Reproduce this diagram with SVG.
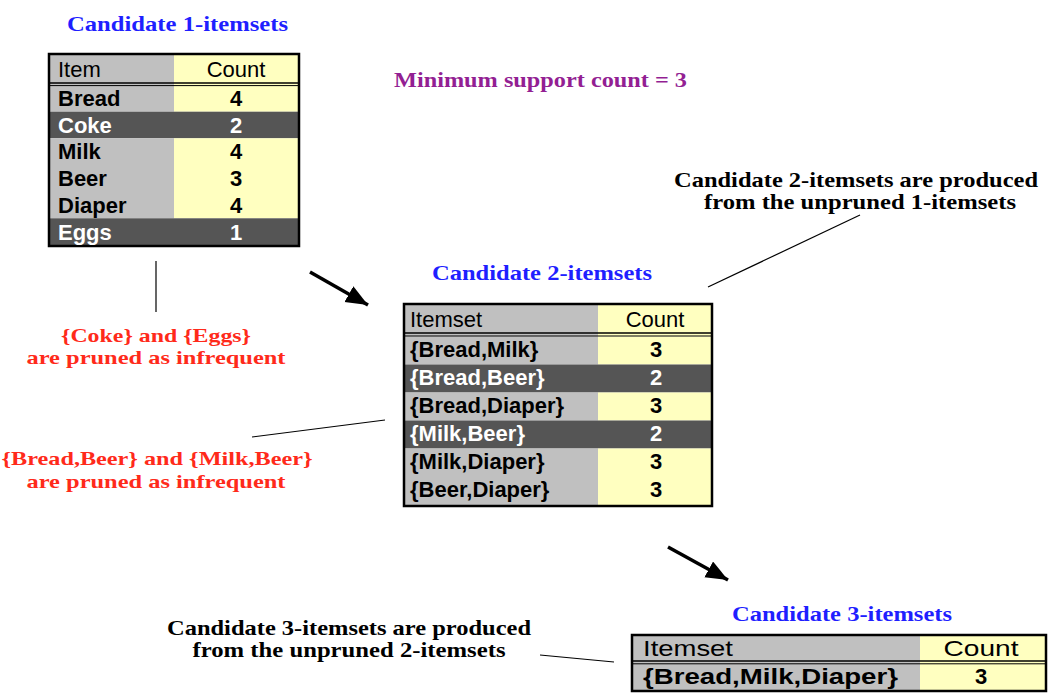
<svg xmlns="http://www.w3.org/2000/svg" width="1056" height="698" viewBox="0 0 1056 698">
<style>
.title{font-family:"Liberation Serif",serif;font-weight:bold;font-size:21px;fill:#1f1fff}
.note{font-family:"Liberation Serif",serif;font-weight:bold;font-size:21px;fill:#000}
.red{font-family:"Liberation Serif",serif;font-weight:bold;font-size:19.5px;fill:#ff2a1a}
.purple{font-family:"Liberation Serif",serif;font-weight:bold;font-size:22px;fill:#931f93}
.hd{font-family:"Liberation Sans",Arial,sans-serif;font-size:22px;fill:#000}
.cell{font-family:"Liberation Sans",Arial,sans-serif;font-weight:bold;font-size:22px;fill:#000}
.w{fill:#fff}
.gray{fill:#c0c0c0}
.yel{fill:#ffffc0}
.dark{fill:#555555}
.frame{fill:none;stroke:#000;stroke-width:2.5}
.dbl{stroke:#000;fill:none}
.ln{stroke:#000;stroke-width:1.2;fill:none}
.arr{stroke:#000;stroke-width:3.5;fill:none}
.c{text-anchor:middle}
</style>
<defs>
<marker id="ah" markerUnits="userSpaceOnUse" markerWidth="24" markerHeight="20" refX="22" refY="9" orient="auto">
<path d="M0,0 L22,9 L0,18 Z" fill="#000"/>
</marker>
</defs>
<rect width="1056" height="698" fill="#fff"/>

<g id="title1"><text class="title" x="67" y="31" textLength="221" lengthAdjust="spacingAndGlyphs">Candidate 1-itemsets</text></g>
<g id="minsup"><text class="purple" x="394" y="87" textLength="293" lengthAdjust="spacingAndGlyphs">Minimum support count = 3</text></g>

<g id="table1">
<rect class="gray" x="49" y="54" width="125" height="31"/>
<rect class="yel" x="174" y="54" width="125" height="31"/>
<rect class="gray" x="49" y="85" width="125" height="26.7"/>
<rect class="yel" x="174" y="85" width="125" height="26.7"/>
<rect class="dark" x="49" y="111.7" width="250" height="26.6"/>
<rect class="gray" x="49" y="138.3" width="125" height="80"/>
<rect class="yel" x="174" y="138.3" width="125" height="80"/>
<rect class="dark" x="49" y="218.3" width="250" height="27.7"/>
<line class="dbl" x1="49" y1="83" x2="299" y2="83" stroke-width="1.6"/>
<line class="dbl" x1="49" y1="85.6" x2="299" y2="85.6" stroke-width="1"/>
<rect class="frame" x="49" y="54" width="250" height="192"/>
<text class="hd" x="58" y="77">Item</text>
<text class="hd c" x="236" y="77">Count</text>
<text class="cell" x="58" y="106">Bread</text><text class="cell c" x="236" y="106">4</text>
<text class="cell w" x="58" y="132.5">Coke</text><text class="cell c w" x="236" y="132.5">2</text>
<text class="cell" x="58" y="159">Milk</text><text class="cell c" x="236" y="159">4</text>
<text class="cell" x="58" y="186">Beer</text><text class="cell c" x="236" y="186">3</text>
<text class="cell" x="58" y="212.5">Diaper</text><text class="cell c" x="236" y="212.5">4</text>
<text class="cell w" x="58" y="240">Eggs</text><text class="cell c w" x="236" y="240">1</text>
</g>

<g id="note1"><text class="note c" x="856" y="187" textLength="364" lengthAdjust="spacingAndGlyphs">Candidate 2-itemsets are produced</text>
<text class="note c" x="860" y="209" textLength="312" lengthAdjust="spacingAndGlyphs">from the unpruned 1-itemsets</text></g>

<g id="title2"><text class="title" x="432" y="280" textLength="220" lengthAdjust="spacingAndGlyphs">Candidate 2-itemsets</text></g>

<g id="table2">
<rect class="gray" x="404" y="304" width="194" height="32.5"/>
<rect class="yel" x="598" y="304" width="114" height="32.5"/>
<rect class="gray" x="404" y="336.5" width="194" height="28"/>
<rect class="yel" x="598" y="336.5" width="114" height="28"/>
<rect class="dark" x="404" y="364.5" width="308" height="28"/>
<rect class="gray" x="404" y="392.5" width="194" height="28"/>
<rect class="yel" x="598" y="392.5" width="114" height="28"/>
<rect class="dark" x="404" y="420.5" width="308" height="28"/>
<rect class="gray" x="404" y="448.5" width="194" height="57.5"/>
<rect class="yel" x="598" y="448.5" width="114" height="57.5"/>
<line class="dbl" x1="404" y1="333" x2="712" y2="333" stroke-width="1.6"/>
<line class="dbl" x1="404" y1="336" x2="712" y2="336" stroke-width="1"/>
<rect class="frame" x="404" y="304" width="308" height="202"/>
<text class="hd" x="410" y="327">Itemset</text>
<text class="hd c" x="655" y="327">Count</text>
<text class="cell" x="410" y="357">{Bread,Milk}</text><text class="cell c" x="656" y="357">3</text>
<text class="cell w" x="410" y="385">{Bread,Beer}</text><text class="cell c w" x="656" y="385">2</text>
<text class="cell" x="410" y="413">{Bread,Diaper}</text><text class="cell c" x="656" y="413">3</text>
<text class="cell w" x="410" y="441">{Milk,Beer}</text><text class="cell c w" x="656" y="441">2</text>
<text class="cell" x="410" y="469">{Milk,Diaper}</text><text class="cell c" x="656" y="469">3</text>
<text class="cell" x="410" y="497">{Beer,Diaper}</text><text class="cell c" x="656" y="497">3</text>
</g>

<g id="red1"><text class="red c" x="156" y="342" textLength="190" lengthAdjust="spacingAndGlyphs">{Coke} and {Eggs}</text>
<text class="red c" x="156" y="363.5" textLength="259" lengthAdjust="spacingAndGlyphs">are pruned as infrequent</text></g>

<g id="red2"><text class="red c" x="157" y="465" textLength="311" lengthAdjust="spacingAndGlyphs">{Bread,Beer} and {Milk,Beer}</text>
<text class="red c" x="156" y="487.5" textLength="259" lengthAdjust="spacingAndGlyphs">are pruned as infrequent</text></g>

<g id="note2"><text class="note c" x="349" y="635" textLength="364" lengthAdjust="spacingAndGlyphs">Candidate 3-itemsets are produced</text>
<text class="note c" x="349" y="657" textLength="313" lengthAdjust="spacingAndGlyphs">from the unpruned 2-itemsets</text></g>

<g id="title3"><text class="title" x="732" y="621" textLength="220" lengthAdjust="spacingAndGlyphs">Candidate 3-itemsets</text></g>

<g id="table3">
<rect class="gray" x="632" y="635" width="288" height="29"/>
<rect class="yel" x="920" y="635" width="126" height="29"/>
<rect class="gray" x="632" y="664" width="288" height="27"/>
<rect class="yel" x="920" y="664" width="126" height="27"/>
<line class="dbl" x1="632" y1="661" x2="1046" y2="661" stroke-width="1.6"/>
<line class="dbl" x1="632" y1="663.8" x2="1046" y2="663.8" stroke-width="1"/>
<rect class="frame" x="632" y="635" width="414" height="56"/>
<text class="hd" x="643" y="656" textLength="90" lengthAdjust="spacingAndGlyphs">Itemset</text>
<text class="hd c" x="981" y="656" textLength="75" lengthAdjust="spacingAndGlyphs">Count</text>
<text class="cell" x="643" y="684" textLength="255" lengthAdjust="spacingAndGlyphs">{Bread,Milk,Diaper}</text>
<text class="cell c" x="981" y="684">3</text>
</g>

<g id="connectors">
<line class="ln" x1="156" y1="261" x2="156" y2="312"/>
<line class="ln" x1="252" y1="437" x2="385" y2="420"/>
<line class="ln" x1="860" y1="215" x2="708" y2="287"/>
<line class="ln" x1="540" y1="655" x2="614" y2="662"/>
<line class="arr" x1="310" y1="272" x2="368" y2="305" marker-end="url(#ah)"/>
<line class="arr" x1="668" y1="547" x2="728" y2="580" marker-end="url(#ah)"/>
</g>
</svg>
